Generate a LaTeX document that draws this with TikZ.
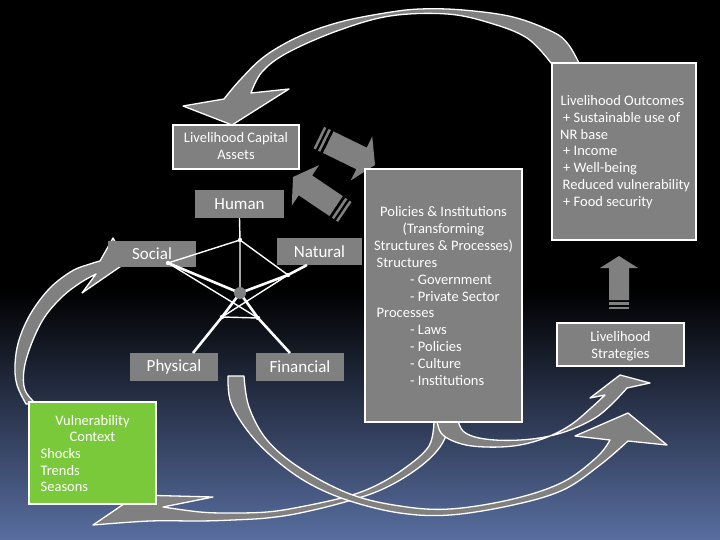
\documentclass[tikz,border=0pt]{standalone}
\usepackage{fontspec}
\setmainfont{Carlito}
\definecolor{boxgray}{RGB}{128,128,128}
\definecolor{vgreen}{RGB}{122,201,58}
\definecolor{bgblue}{RGB}{88,110,160}
\tikzset{
  arrowsty/.style={fill=boxgray, draw=white, line width=1.3pt, line join=round},
  wbox/.style={fill=boxgray, draw=white, line width=1.6pt, inner sep=0pt},
  gbox/.style={fill=vgreen, draw=white, line width=1.6pt, inner sep=0pt},
  lbl/.style={fill=boxgray, text=white, inner sep=0pt, font=\fontsize{17}{20}\selectfont},
  txt/.style={text=white, inner sep=0pt, font=\fontsize{14.5}{17}\selectfont},
  thinl/.style={draw=white, line width=1.4pt},
  thickl/.style={draw=white, line width=2.6pt},
  blockarrow/.style={fill=boxgray},
}
\begin{document}
\begin{tikzpicture}[x=1pt,y=-1pt]
\useasboundingbox (0,0) rectangle (720,540);
% background
\fill[black] (0,0) rectangle (720,540);
\shade[top color=black, bottom color=bgblue] (0,290) rectangle (720,540);

% curved arrows
\filldraw[arrowsty] plot[smooth,tension=0.6] coordinates {(434,421) (429,446) (405,468) (375,486) (345,497) (300,507) (267,512) (230,513) (200,512) (163,507)} -- (213,497) -- (137,495) -- (93,525) -- plot[smooth,tension=0.6] coordinates {(93,525) (150,521) (200,521) (233,520) (267,518) (300,513) (345,502) (383,489) (417,469) (440,447) (452,421)} -- cycle;
\filldraw[arrowsty] plot[smooth,tension=0.6] coordinates {(437,421) (441,433) (453,441) (472,446) (500,447) (525,444) (550,436) (572,424) (591,408) (605,395)} -- (590,398) -- (620,375) -- (650,383) -- (627,388) -- plot[smooth,tension=0.6] coordinates {(627,388) (612,404) (595,418) (570,430) (545,437) (520,440) (495,440) (475,437) (463,431) (458,421)} -- cycle;
\filldraw[arrowsty] plot[smooth,tension=0.6] coordinates {(228,376) (231,403) (250,434) (277,461) (310,484) (350,501) (400,513) (450,515) (513,505) (563,490) (600,465) (628,441)} -- (667,445) -- (628,413) -- (575,436) -- (610,440) -- plot[smooth,tension=0.6] coordinates {(610,440) (597,457) (563,482) (513,499) (450,509) (400,506) (350,494) (300,468) (267,440) (249,407) (244,376)} -- cycle;
\filldraw[arrowsty] plot[smooth,tension=0.6] coordinates {(579,63) (568,44) (553,32) (513,17) (463,10) (420,9) (385,13) (340,22) (300,36) (265,56) (240,80) (224,99)} -- (183,106) -- (232,125) -- (289,89) -- (251,93) -- plot[smooth,tension=0.6] coordinates {(251,93) (262,72) (287,53) (337,31) (390,16) (447,14) (490,23) (527,38) (551,63)} -- cycle;
\filldraw[arrowsty] plot[smooth,tension=0.6] coordinates {(26,404) (17,385) (15,365) (19,340) (31,313) (50,288) (72,271) (90,264) (100,261)} -- (113,238) -- (127,262) -- (82,293) -- (96,274) -- plot[smooth,tension=0.6] coordinates {(96,274) (80,283) (62,297) (44,318) (31,345) (24,370) (25,390) (36,404)} -- cycle;

% block arrows between assets and policies
\begin{scope}[shift={(375,165)}, rotate=-26]
  \fill[blockarrow] (0,0) -- (-15,24.5) -- (-15,12) -- (-52,12) -- (-52,-12) -- (-15,-12) -- (-15,-24.5) -- cycle;
  \fill[blockarrow] (-55,-12) rectangle (-57.5,12);
  \fill[blockarrow] (-60,-12) rectangle (-62.5,12);
\end{scope}
\begin{scope}[shift={(293,177)}, rotate=146]
  \fill[blockarrow] (0,0) -- (-15,24.5) -- (-15,12) -- (-52,12) -- (-52,-12) -- (-15,-12) -- (-15,-24.5) -- cycle;
  \fill[blockarrow] (-55,-12) rectangle (-57.5,12);
  \fill[blockarrow] (-60,-12) rectangle (-62.5,12);
\end{scope}

% up arrow to outcomes
\fill[blockarrow] (619,256) -- (638,268) -- (629,268) -- (629,300) -- (609,300) -- (609,268) -- (600,268) -- cycle;
\fill[blockarrow] (609,302) rectangle (629,304.5);
\fill[blockarrow] (609,306.5) rectangle (629,309);

% boxes
\node[wbox, minimum width=126pt, minimum height=44pt] (capital) at (236,147) {};
\node[wbox, minimum width=157pt, minimum height=253pt] (policies) at (443.5,295.5) {};
\node[wbox, minimum width=144pt, minimum height=177pt] (outcomes) at (624,151.5) {};
\node[wbox, minimum width=127pt, minimum height=43pt] (strategies) at (620.5,344.5) {};
\node[gbox, minimum width=127pt, minimum height=102pt] (vuln) at (92.5,453) {};

% pentagon labels
\node[lbl, minimum width=89pt, minimum height=28pt] (human) at (239.5,204) {Human};
\node[lbl, minimum width=88pt, minimum height=26pt] (social) at (152,254) {Social};
\node[lbl, minimum width=85pt, minimum height=27pt] (natural) at (319.5,251.5) {Natural};
\node[lbl, minimum width=88pt, minimum height=28pt] (physical) at (174,367) {Physical};
\node[lbl, minimum width=88pt, minimum height=28pt] (financial) at (300,367) {Financial};

% pentagon web
\coordinate (pT) at (240,240);
\coordinate (pS) at (168,263);
\coordinate (pN) at (288,275);
\coordinate (pC) at (240,293);
\coordinate (pBL) at (222,317);
\coordinate (pBR) at (258,318);
\coordinate (natB) at (307,265);
\coordinate (phyT) at (193,353);
\coordinate (finT) at (290,353);
\draw[thinl] (human.south) -- (pT) -- (pC);
\draw[thinl] (pT) -- (pS);
\draw[thinl] (pT) -- (pN);
\draw[thinl] (pS) -- (pBR);
\draw[thinl] (pN) -- (pBL);
\draw[thinl] (pBL) -- (pBR);
\draw[thickl] (pS) -- (pC) -- (pN) -- (natB);
\draw[thickl] (pC) -- (pBL) -- (phyT);
\draw[thickl] (pC) -- (pBR) -- (finT);
\foreach \p in {pT,pS,pN,pBL,pBR} \fill[white] (\p) circle (2.2);
\fill[boxgray] (pC) circle (6);

% texts
\node[txt, anchor=base] (capA) at (236,142.5) {Livelihood Capital};
\node[txt, anchor=base] (capB) at (236,159.5) {Assets};

\node[txt, anchor=base] (po1) at (443.5,217) {Policies \& Institutions};
\node[txt, anchor=base] (po2) at (443.5,233.8) {(Transforming};
\node[txt, anchor=base] (po3) at (443.5,250.6) {Structures \& Processes)};
\node[txt, anchor=base west] (po4) at (376.5,267.4) {Structures};
\node[txt, anchor=base west] (po5) at (410,284.2) {- Government};
\node[txt, anchor=base west] (po6) at (410,301) {- Private Sector};
\node[txt, anchor=base west] (po7) at (376.5,317.8) {Processes};
\node[txt, anchor=base west] (po8) at (410,334.6) {- Laws};
\node[txt, anchor=base west] (po9) at (410,351.4) {- Policies};
\node[txt, anchor=base west] (po10) at (410,368.2) {- Culture};
\node[txt, anchor=base west] (po11) at (410,385) {- Institutions};

\node[txt, anchor=base west] (ou1) at (560.5,105.5) {Livelihood Outcomes};
\node[txt, anchor=base west] (ou2) at (563,122.3) {+ Sustainable use of};
\node[txt, anchor=base west] (ou3) at (560,139.1) {NR base};
\node[txt, anchor=base west] (ou4) at (563,155.9) {+ Income};
\node[txt, anchor=base west] (ou5) at (563,172.7) {+ Well-being};
\node[txt, anchor=base west] (ou6) at (562.5,189.5) {Reduced vulnerability};
\node[txt, anchor=base west] (ou7) at (563,206.3) {+ Food security};

\node[txt, anchor=base] (st1) at (620.5,341.5) {Livelihood};
\node[txt, anchor=base] (st2) at (620.5,358) {Strategies};

\node[txt, anchor=base] (vu1) at (92.5,425) {Vulnerability};
\node[txt, anchor=base] (vu2) at (92.5,441.7) {Context};
\node[txt, anchor=base west] (vu3) at (40.5,458.3) {Shocks};
\node[txt, anchor=base west] (vu4) at (40.5,475) {Trends};
\node[txt, anchor=base west] (vu5) at (40.5,491.7) {Seasons};
\end{tikzpicture}
\end{document}
